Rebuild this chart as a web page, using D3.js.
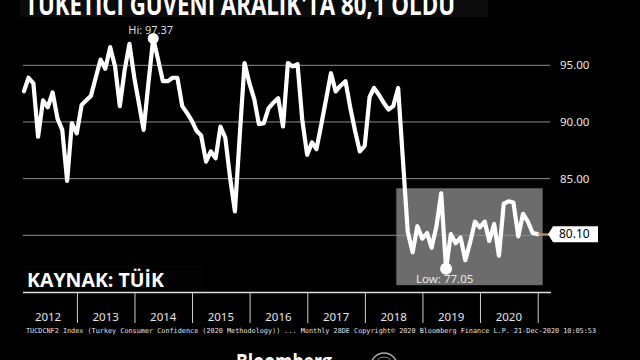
<!DOCTYPE html>
<html><head><meta charset="utf-8">
<script src="https://cdn.jsdelivr.net/npm/d3@7"></script>
<style>
html,body{margin:0;padding:0;background:#000;overflow:hidden}
svg{display:block}
</style></head>
<body>
<svg id="c" width="640" height="360"></svg>
<script>
// Turkey Consumer Confidence (2020 methodology), monthly, Jan 2012 – Dec 2020
const startYear = 2012;
const values = [
  92.7, 93.9, 93.4, 88.7, 91.9, 91.3, 92.6, 90.3, 89.3, 84.8, 89.9, 89.0,
  91.5, 91.9, 92.3, 93.9, 95.5, 94.7, 96.6, 94.9, 91.4, 94.6, 96.9, 93.9,
  91.5, 89.3, 93.5, 97.37, 95.5, 93.6, 93.6, 93.9, 93.9, 91.4, 90.8, 90.1,
  89.2, 88.8, 86.5, 87.4, 86.8, 89.6, 88.6, 85.0, 82.1, 88.9, 95.2, 93.4,
  92.0, 89.8, 89.9, 91.2, 91.7, 92.1, 89.6, 95.2, 94.9, 95.1, 90.2, 87.1,
  88.2, 87.6, 89.8, 92.0, 94.3, 92.7, 93.2, 93.6, 91.3, 89.2, 87.4, 87.9,
  92.2, 93.0, 92.4, 91.7, 91.1, 91.4, 93.0, 86.5, 80.3, 78.5, 80.8, 79.7,
  80.2, 78.9, 80.8, 83.7, 77.05, 80.1, 79.3, 79.8, 77.8, 79.4, 81.2, 80.7,
  81.2, 79.5, 81.0, 78.2, 82.8, 83.0, 82.9, 79.9, 81.9, 81.2, 80.2, 80.1
];
const gridTicks = [80, 85, 90, 95];
const yLabelTicks = [85, 90, 95];
const yearLabels = ["2012","2013","2014","2015","2016","2017","2018","2019","2020"];
const titleText = "TÜKETİCİ GÜVENİ ARALIK'TA 80,1 OLDU";
const sourceText = "KAYNAK: TÜİK";
const footerText = "TUCDCNF2 Index (Turkey Consumer Confidence (2020 Methodology)) ...  Monthly 28DE  Copyright\u00A9 2020 Bloomberg Finance L.P.   21-Dec-2020 10:05:53";
const highlightStart = "2018-08";

const data = values.map((v, i) => ({date: new Date(startYear, i + 1, 0), v}));

const svg = d3.select("#c");
const x = d3.scaleTime().domain([new Date(2012,0,1), new Date(2021,0,1)]).range([19.2, 537.7]);
const y = d3.scaleLinear().domain([80, 95]).range([235.3, 65.3]);

const font = "'Noto Sans', 'Open Sans', sans-serif";

// title bar (cut off at top)
svg.append("rect").attr("x",20).attr("y",0).attr("width",468).attr("height",17).attr("fill","#0b0b0b");
svg.append("text").attr("x",25).attr("y",15).text(titleText)
  .attr("fill","#fff").attr("font-family","'Open Sans', sans-serif").attr("font-weight",700)
  .attr("font-size",29).attr("textLength",430).attr("lengthAdjust","spacingAndGlyphs");

// highlight box
const hs = d3.timeParse("%Y-%m")(highlightStart);
svg.append("rect")
  .attr("x", x(hs) - 2).attr("y", y(84.15))
  .attr("width", x(new Date(2021,0,1)) + 5 - (x(hs) - 2))
  .attr("height", y(75.6) - y(84.15))
  .attr("fill", "#6c6c6c");

// gridlines
svg.append("g").selectAll("line").data(gridTicks).join("line")
  .attr("x1", 23).attr("x2", 550)
  .attr("y1", d => y(d)).attr("y2", d => y(d))
  .attr("stroke", "#8e8e8e").attr("stroke-width", 1);

// y axis labels (right)
const yAxis = d3.axisRight(y).tickValues(yLabelTicks).tickFormat(d3.format(".2f")).tickSize(0).tickPadding(0);
const ya = svg.append("g").attr("transform","translate(560,0)").call(yAxis);
ya.select(".domain").remove();
ya.selectAll("text").attr("fill","#e6e6e6").attr("font-family",font).attr("font-size",11.5);

// x axis
const xAxis = d3.axisBottom(x)
  .tickValues(d3.range(2013, 2022).map(yr => new Date(yr,0,1)))
  .tickSize(31).tickFormat("");
const xa = svg.append("g").attr("transform","translate(0,292)").call(xAxis);
xa.select(".domain").attr("d","M23,0.5H551").attr("stroke","#e0e0e0").attr("stroke-width",1.5);
xa.selectAll(".tick line").attr("stroke","#d0d0d0");
svg.append("g").selectAll("text").data(yearLabels).join("text")
  .attr("x", d => (x(new Date(+d,0,1)) + x(new Date(+d+1,0,1))) / 2)
  .attr("y", 320.5).attr("text-anchor","middle")
  .attr("fill","#e6e6e6").attr("font-family",font).attr("font-size",11.5)
  .text(d => d);

// line
const line = d3.line().x(d => x(d.date)).y(d => y(d.v));
svg.append("path").datum(data).attr("d", line)
  .attr("fill","none").attr("stroke","#fff").attr("stroke-width",4.2)
  .attr("stroke-linejoin","round").attr("stroke-linecap","round");

// hi / low markers
const hi = data.reduce((a,b) => b.v > a.v ? b : a);
const lo = data.reduce((a,b) => b.v < a.v ? b : a);
svg.append("circle").attr("cx", x(hi.date)).attr("cy", y(hi.v)).attr("r",5.5).attr("fill","#fff");
svg.append("circle").attr("cx", x(lo.date)).attr("cy", y(lo.v)).attr("r",6).attr("fill","#fff");
svg.append("text").attr("x", x(hi.date) - 25).attr("y", 33.5).text("Hi: " + d3.format(".2f")(hi.v))
  .attr("fill","#dcdcdc").attr("font-family",font).attr("font-size",11);
svg.append("text").attr("x", x(lo.date) - 30).attr("y", 282.5).text("Low: " + d3.format(".2f")(lo.v))
  .attr("fill","#e8e8e8").attr("font-family",font).attr("font-size",11.5);

// last value tag
const last = data[data.length - 1];
const ly = y(last.v);
svg.append("line").attr("x1", x(last.date)).attr("x2", 549).attr("y1", ly).attr("y2", ly)
  .attr("stroke","#c99a5c").attr("stroke-width",1.5);
svg.append("path")
  .attr("d", `M548,${ly} L553,${ly-8} H598 V${ly+8} H553 Z`)
  .attr("fill","#fff");
svg.append("text").attr("x", 559).attr("y", ly + 4.2).text(d3.format(".2f")(last.v))
  .attr("fill","#000").attr("font-family",font).attr("font-size",12);

// source box
svg.append("rect").attr("x",23).attr("y",265).attr("width",180).attr("height",26).attr("fill","#030303");
svg.append("text").attr("x",27).attr("y",286.5).text(sourceText)
  .attr("fill","#fff").attr("font-family","'Open Sans', sans-serif").attr("font-weight",700)
  .attr("font-size",19.5);

// footer
svg.append("text").attr("x",26).attr("y",333).text(footerText)
  .attr("fill","#e0e0e0").attr("font-family","'DejaVu Sans Mono', monospace").attr("font-size",6.8)
  .attr("textLength",570).attr("lengthAdjust","spacingAndGlyphs");

// Bloomberg logo (cut off at bottom)
svg.append("text").attr("x",236).attr("y",369).text("Bloomberg")
  .attr("fill","#fff").attr("font-family","'Open Sans', sans-serif").attr("font-weight",700)
  .attr("font-size",21).attr("textLength",96).attr("lengthAdjust","spacingAndGlyphs");
svg.append("circle").attr("cx",384).attr("cy",366).attr("r",13)
  .attr("fill","none").attr("stroke","#aaa").attr("stroke-width",1.5);
svg.append("circle").attr("cx",384).attr("cy",366).attr("r",9)
  .attr("fill","none").attr("stroke","#888").attr("stroke-width",1);
</script>
</body></html>
